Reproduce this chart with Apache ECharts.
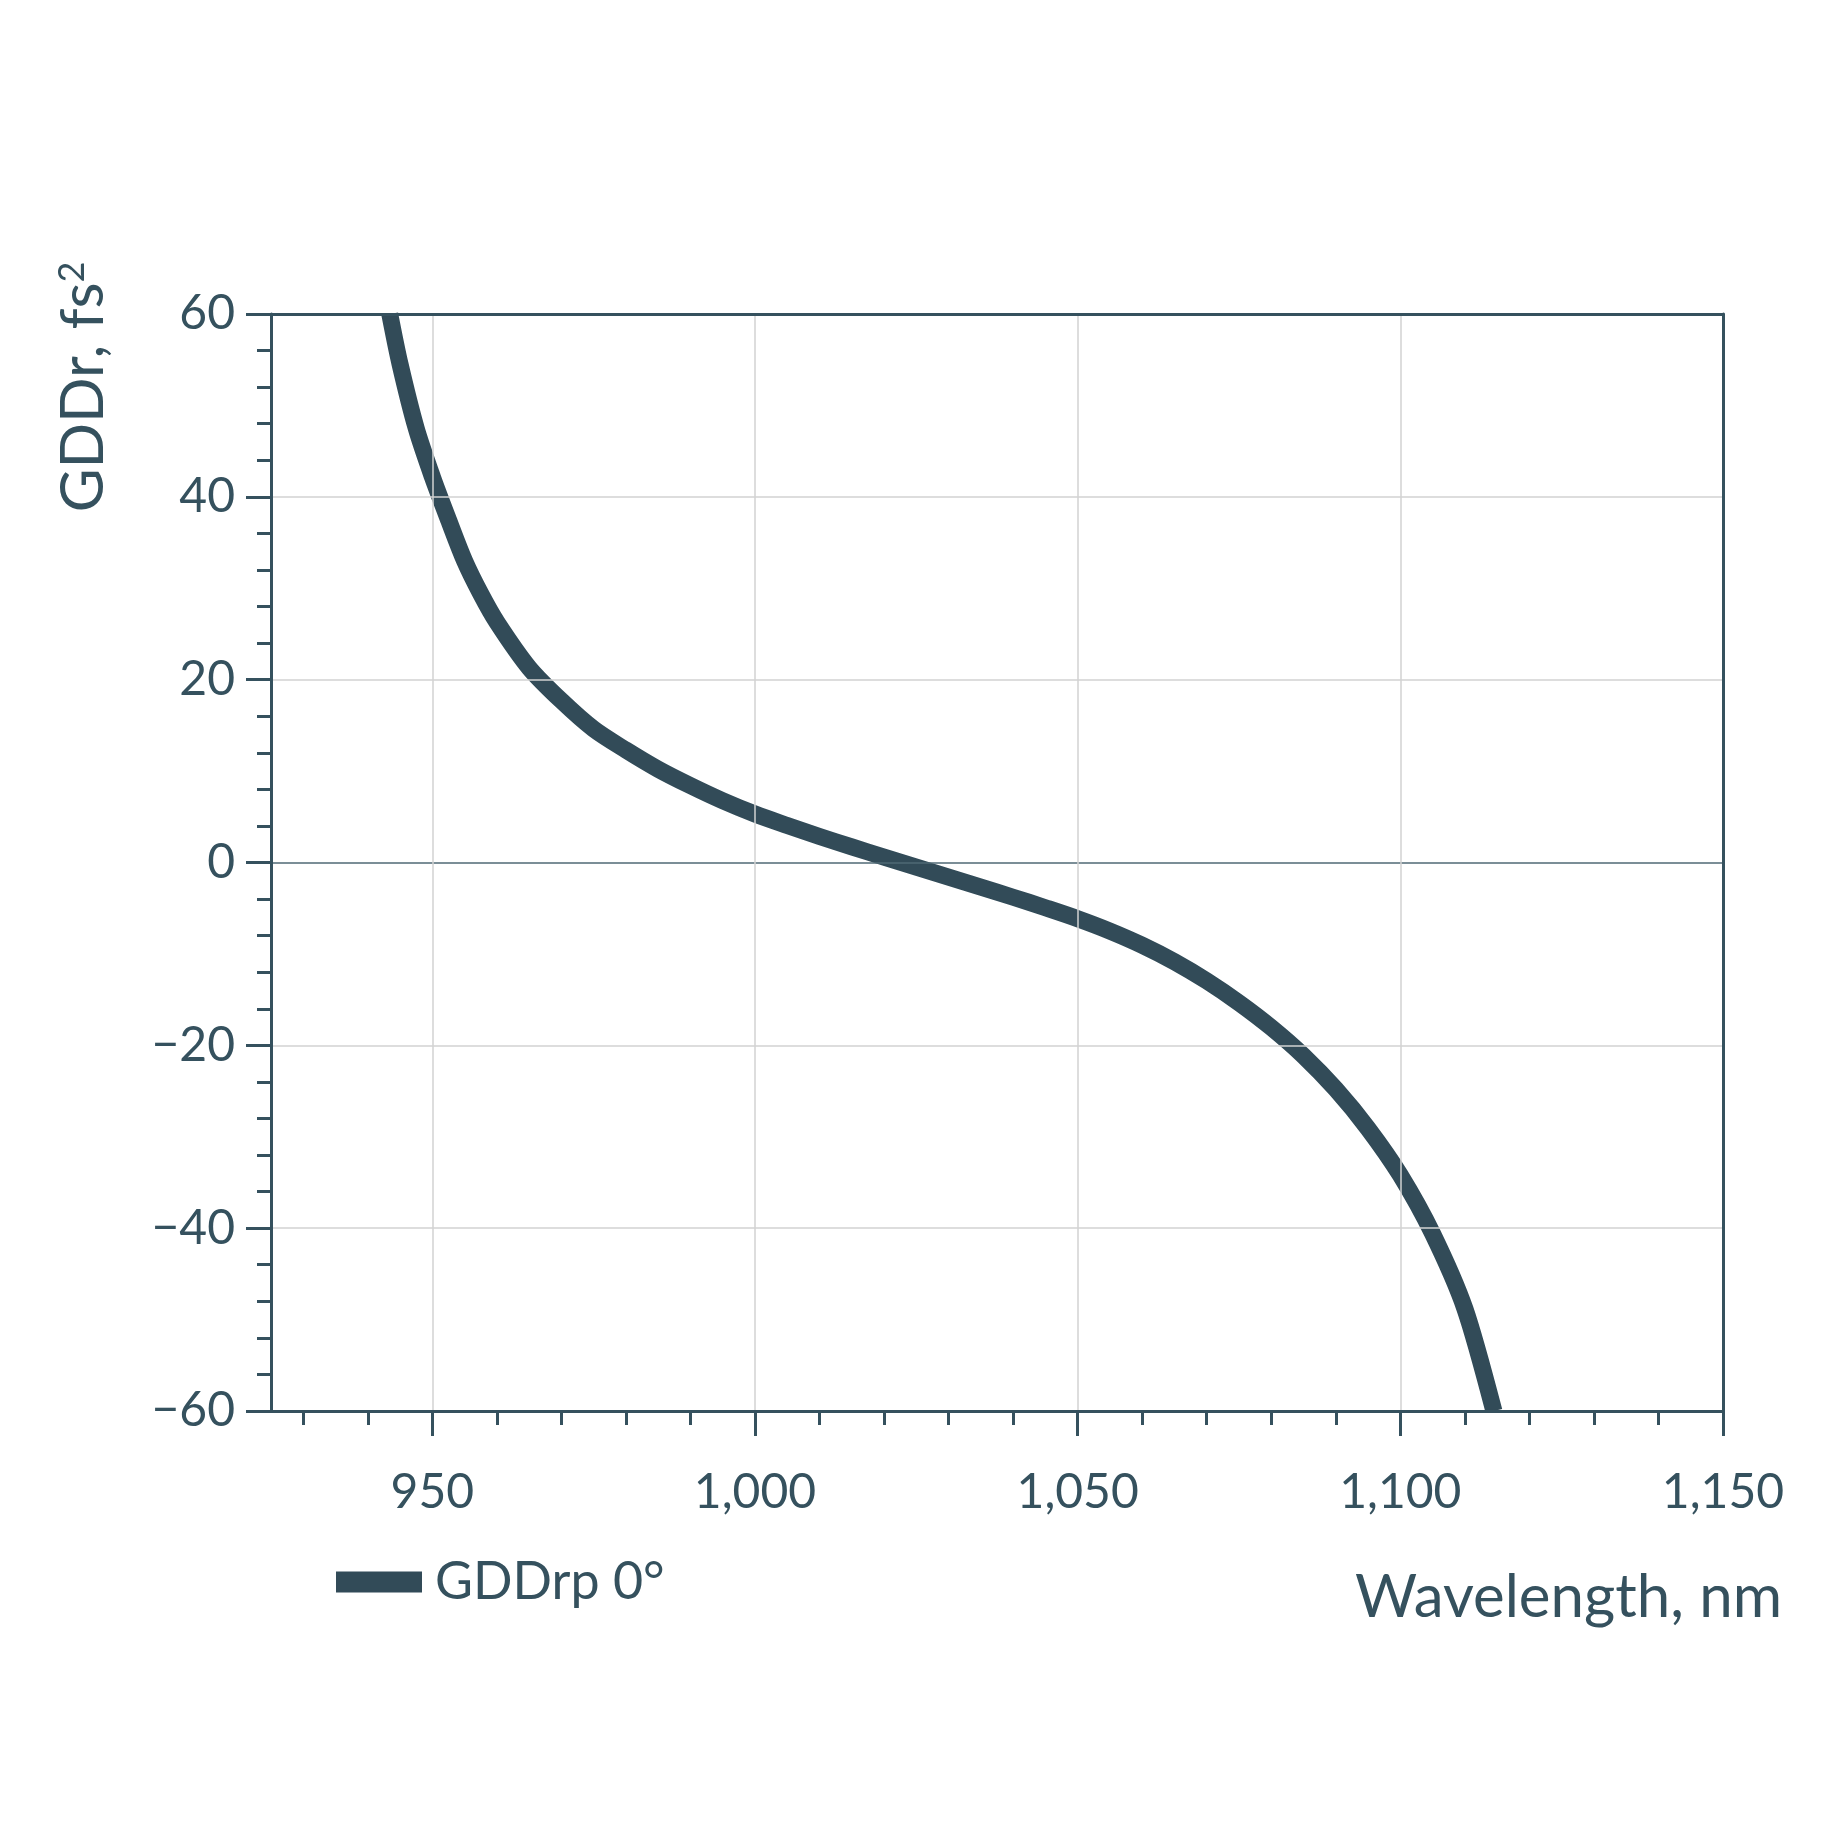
<!DOCTYPE html>
<html>
<head>
<meta charset="utf-8">
<title>GDDrp 0°</title>
<script src="https://cdn.jsdelivr.net/npm/echarts@6/dist/echarts.min.js"></script>
<style>
  html, body { margin: 0; padding: 0; background: #fff; }
  #chart { width: 1848px; height: 1848px; }
</style>
</head>
<body>
<div id="chart"></div>
<script>
// ── Data ─────────────────────────────────────────────────────────────────────

const wavelength = [943.4, 945, 947.5, 950, 952.5, 955, 957.5, 960, 965, 970, 975, 980, 985,
  990, 995, 1000, 1005, 1010, 1015, 1020, 1025, 1030, 1035, 1040, 1045, 1050, 1055,
  1060, 1065, 1070, 1075, 1080, 1085, 1090, 1095, 1100, 1105, 1110, 1114.5];
const gddrp = [60, 54.5, 47.5, 42.2, 37.5, 33.0, 29.4, 26.3, 21.3, 17.7, 14.6, 12.3, 10.2,
  8.4, 6.75, 5.3, 4.05, 2.85, 1.7, 0.6, -0.5, -1.6, -2.7, -3.8, -4.95, -6.15, -7.5,
  -9.05, -10.85, -12.95, -15.35, -18.05, -21.15, -24.8, -29.1, -34.2, -40.6, -48.8, -60];

const xMajorTicks = [950, 1000, 1050, 1100, 1150];
const xMinorTicks = [930, 940, 960, 970, 980, 990, 1010, 1020, 1030, 1040,
  1060, 1070, 1080, 1090, 1110, 1120, 1130, 1140];
const xGridLines = [950, 1000, 1050, 1100];

const seriesName = 'GDDrp 0°';

// ── Style ────────────────────────────────────────────────────────────────────

const INK = '#35515e';
const CURVE = '#324b58';
const GRID = '#d2d2d2';
const FONT = 'Lato, "Open Sans", sans-serif';

const fmtX = v => v.toLocaleString('en-US');
const fmtY = v => String(v).replace('-', '\u2212');

const pairs = wavelength.map((w, i) => [w, gddrp[i]]);

const frameAxis = { show: true, lineStyle: { color: INK, width: 3 }, onZero: false };

const chart = echarts.init(document.getElementById('chart'), null, { renderer: 'canvas' });

chart.setOption({
  backgroundColor: '#fff',
  animation: false,
  textStyle: { fontFamily: FONT, color: INK },
  grid: {
    left: 271, top: 314, width: 1452, height: 1097,
    show: false, outerBoundsMode: 'none',
  },
  legend: {
    left: 331, top: 1551,
    icon: 'rect', itemWidth: 86, itemHeight: 21,
    textStyle: { fontSize: 52, color: INK, fontFamily: FONT, padding: [0, 0, 0, 8] },
    data: [seriesName],
  },
  xAxis: [{
    type: 'value', min: 925, max: 1150, position: 'bottom',
    axisLine: frameAxis,
    axisTick: { customValues: xMajorTicks, length: 25, lineStyle: { color: INK, width: 3 } },
    axisLabel: {
      customValues: xMajorTicks, formatter: fmtX,
      fontSize: 48, color: INK, margin: 58, fontFamily: FONT,
    },
    splitLine: { show: true, customValues: xGridLines, lineStyle: { color: GRID, width: 1.5 } },
    z: 3,
  }, {
    type: 'value', min: 925, max: 1150, position: 'bottom',
    axisLine: { show: false, onZero: false },
    axisTick: { customValues: xMinorTicks, length: 14, lineStyle: { color: INK, width: 3 } },
    axisLabel: { show: false },
    splitLine: { show: false },
  }, {
    type: 'value', min: 925, max: 1150, position: 'top',
    axisLine: frameAxis,
    axisTick: { show: false }, axisLabel: { show: false }, splitLine: { show: false },
    z: 3,
  }],
  yAxis: [{
    type: 'value', min: -60, max: 60, interval: 20, position: 'left',
    axisLine: frameAxis,
    axisTick: { length: 25, lineStyle: { color: INK, width: 3 } },
    minorTick: { show: true, splitNumber: 5, length: 14, lineStyle: { color: INK, width: 3 } },
    axisLabel: { formatter: fmtY, fontSize: 48, color: INK, margin: 36, fontFamily: FONT },
    splitLine: {
      show: true,
      lineStyle: { color: [GRID, GRID, GRID, '#4f6874', GRID, GRID, GRID], width: 1.5 },
    },
    z: 3,
  }, {
    type: 'value', min: -60, max: 60, interval: 20, position: 'right',
    axisLine: frameAxis,
    axisTick: { show: false }, axisLabel: { show: false }, splitLine: { show: false },
    z: 3,
  }],
  graphic: [{
    type: 'text', x: 84, y: 387, rotation: Math.PI / 2,
    style: {
      text: 'GDDr, fs{sup|2}', fill: INK, font: `60px ${FONT}`,
      align: 'center', verticalAlign: 'middle',
      rich: { sup: { fontSize: 36, fontFamily: FONT, fill: INK, verticalAlign: 'top', lineHeight: 60 } },
    },
  }, {
    type: 'text', right: 66, top: 1568,
    style: { text: 'Wavelength, nm', fill: INK, font: `60px ${FONT}` },
  }],
  series: [{
    name: seriesName,
    type: 'line',
    xAxisIndex: 0,
    yAxisIndex: 0,
    data: pairs,
    smooth: 0.3,
    showSymbol: false,
    symbol: 'none',
    clip: true,
    itemStyle: { color: CURVE },
    lineStyle: { color: CURVE, width: 17, cap: 'butt', join: 'round' },
    z: 2,
  }],
});
</script>
</body>
</html>
